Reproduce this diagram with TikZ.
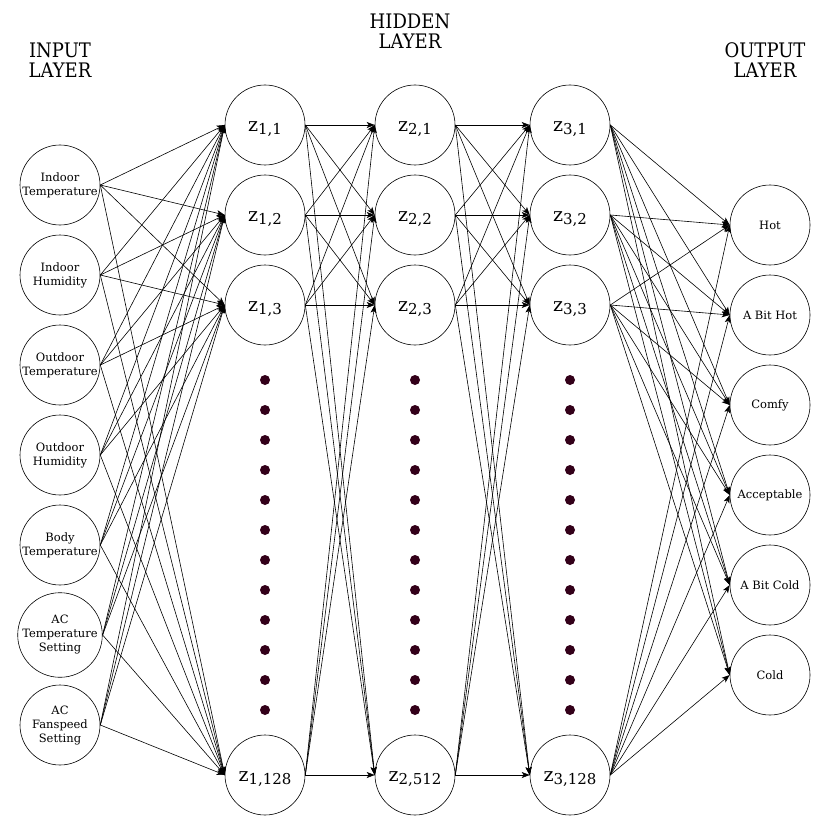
\documentclass[tikz,border=0pt]{standalone}
\usepackage{fontspec}
\setmainfont{DejaVu Serif}
\newfontfamily\hdrfont[FakeStretch=0.9]{DejaVu Serif}
\usetikzlibrary{arrows.meta}
\definecolor{dotc}{RGB}{51,0,25}
\newcommand{\zlab}[2]{\raisebox{-6.5pt}[0pt][0pt]{{\fontsize{19}{19}\selectfont z}{\fontsize{15}{15}\selectfont\raisebox{-3.3pt}{#1,#2}}}}
\begin{document}
\begin{tikzpicture}[x=1pt,y=-1pt,
 neuron/.style={circle,draw,line width=0.6pt,minimum size=80pt,inner sep=0pt},
 lbl/.style={font=\fontsize{11.5}{14}\selectfont,align=center},
 conn/.style={-{Stealth[length=8pt,width=6pt,inset=2pt]},line width=0.6pt},
 dotn/.style={circle,fill=dotc,inner sep=0pt,minimum size=10pt},
 hdr/.style={font=\hdrfont\fontsize{20}{19.5}\selectfont,align=center}]
\useasboundingbox (0,0) rectangle (826,821);

\node[hdr] (hin) at (60,60) {INPUT\\LAYER};
\node[hdr] (hhid) at (410,31) {HIDDEN\\LAYER};
\node[hdr] (hout) at (765,60) {OUTPUT\\LAYER};

% input layer
\node[neuron,lbl] (i1) at (60,185) {Indoor\\Temperature};
\node[neuron,lbl] (i2) at (60,275) {Indoor\\Humidity};
\node[neuron,lbl] (i3) at (60,365) {Outdoor\\Temperature};
\node[neuron,lbl] (i4) at (60,455) {Outdoor\\Humidity};
\node[neuron,lbl] (i5) at (60,545) {Body\\Temperature};
\node[neuron,lbl] (i6) at (60,635) {AC\\Temperature\\Setting};
\node[neuron,lbl] (i7) at (60,725) {AC\\Fanspeed\\Setting};

% hidden layers
\node[neuron] (a1) at (265,125) {\zlab{1}{1}};
\node[neuron] (a2) at (265,215) {\zlab{1}{2}};
\node[neuron] (a3) at (265,305) {\zlab{1}{3}};
\node[neuron] (a4) at (265,775) {\zlab{1}{128}};
\node[neuron] (b1) at (415,125) {\zlab{2}{1}};
\node[neuron] (b2) at (415,215) {\zlab{2}{2}};
\node[neuron] (b3) at (415,305) {\zlab{2}{3}};
\node[neuron] (b4) at (415,775) {\zlab{2}{512}};
\node[neuron] (c1) at (570,125) {\zlab{3}{1}};
\node[neuron] (c2) at (570,215) {\zlab{3}{2}};
\node[neuron] (c3) at (570,305) {\zlab{3}{3}};
\node[neuron] (c4) at (570,775) {\zlab{3}{128}};

% output layer
\node[neuron,lbl] (o1) at (770,225) {Hot};
\node[neuron,lbl] (o2) at (770,315) {A Bit Hot};
\node[neuron,lbl] (o3) at (770,405) {Comfy};
\node[neuron,lbl] (o4) at (770,495) {Acceptable};
\node[neuron,lbl] (o5) at (770,585) {A Bit Cold};
\node[neuron,lbl] (o6) at (770,675) {Cold};

% dots
\foreach \x/\n in {265/a,415/b,570/c}
  \foreach \k in {0,...,11}
    \node[dotn] (dot\n\k) at (\x,380+30*\k) {};

% connections
\foreach \i in {1,...,7}
  \foreach \j in {1,...,4}
    \draw[conn] (i\i.east) -- (a\j.west);
\foreach \i in {1,...,4}
  \foreach \j in {1,...,4}
    {\draw[conn] (a\i.east) -- (b\j.west);
     \draw[conn] (b\i.east) -- (c\j.west);}
\foreach \i in {1,...,4}
  \foreach \j in {1,...,6}
    \draw[conn] (c\i.east) -- (o\j.west);
\end{tikzpicture}
\end{document}
